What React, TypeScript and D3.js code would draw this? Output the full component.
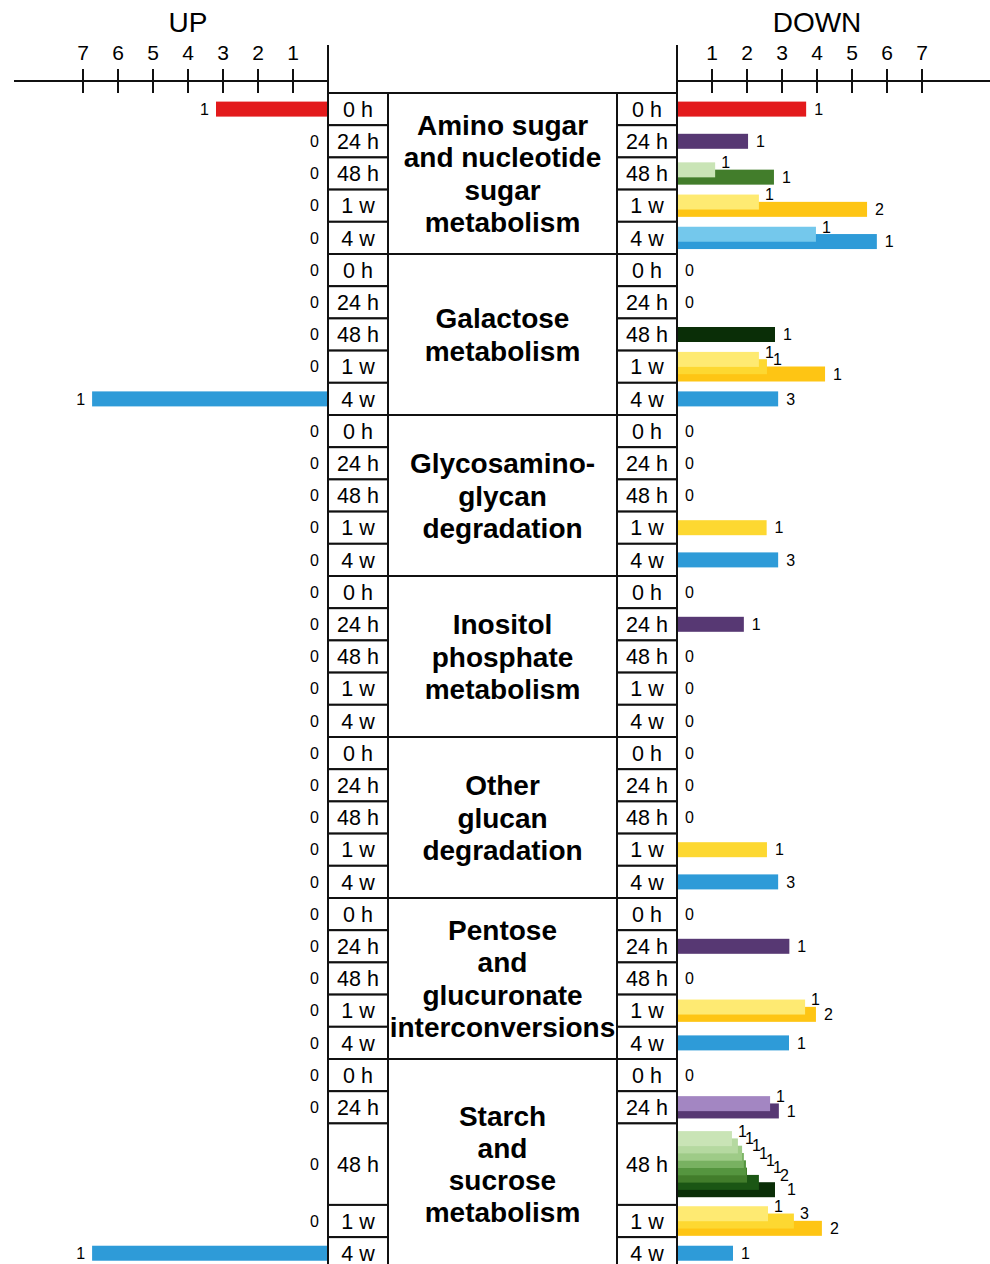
import React from 'react';
import * as d3 from 'd3';

// time points shown in both table columns
const timepoints = ['0 h', '24 h', '48 h', '1 w', '4 w'];

const pathwayLabels = [
  ['Amino sugar', 'and nucleotide', 'sugar', 'metabolism'],
  ['Galactose', 'metabolism'],
  ['Glycosamino-', 'glycan', 'degradation'],
  ['Inositol', 'phosphate', 'metabolism'],
  ['Other', 'glucan', 'degradation'],
  ['Pentose', 'and', 'glucuronate', 'interconversions'],
  ['Starch', 'and', 'sucrose', 'metabolism'],
];

// UP: bar length per pathway x timepoint, and gene counts
const upLength = [
  [3.2, 0, 0, 0, 0],
  [0, 0, 0, 0, 6.74],
  [0, 0, 0, 0, 0],
  [0, 0, 0, 0, 0],
  [0, 0, 0, 0, 0],
  [0, 0, 0, 0, 0],
  [0, 0, 0, 0, 6.74],
];
const upCount = [
  [1, 0, 0, 0, 0],
  [0, 0, 0, 0, 1],
  [0, 0, 0, 0, 0],
  [0, 0, 0, 0, 0],
  [0, 0, 0, 0, 0],
  [0, 0, 0, 0, 0],
  [0, 0, 0, 0, 1],
];
const upShade = ['red', 'purple', 'green8', 'yellow3', 'blue2'];

// DOWN: each cell holds [length, count, shade] bars
type Bar = [number, number, string];
const downAminoSugar: Bar[][] = [
  [[3.69, 1, 'red']],
  [[2.03, 1, 'purple']],
  [[1.09, 1, 'green1'], [2.77, 1, 'green6']],
  [[2.34, 1, 'yellow1'], [5.43, 2, 'yellow3']],
  [[3.97, 1, 'blue1'], [5.71, 1, 'blue2']],
];
const downGalactose: Bar[][] = [
  [],
  [],
  [[2.8, 1, 'green8']],
  [[2.34, 1, 'yellow1'], [2.57, 1, 'yellow2'], [4.23, 1, 'yellow3']],
  [[2.89, 3, 'blue2']],
];
const downGlycosaminoglycan: Bar[][] = [[], [], [], [[2.56, 1, 'yellow2']], [[2.89, 3, 'blue2']]];
const downInositol: Bar[][] = [[], [[1.91, 1, 'purple']], [], [], []];
const downOtherGlucan: Bar[][] = [[], [], [], [[2.57, 1, 'yellow2']], [[2.89, 3, 'blue2']]];
const downPentose: Bar[][] = [
  [],
  [[3.21, 1, 'purple']],
  [],
  [[3.66, 1, 'yellow1'], [3.97, 2, 'yellow3']],
  [[3.2, 1, 'blue2']],
];
const downStarch: Bar[][] = [
  [],
  [[2.66, 1, 'lilac'], [2.91, 1, 'purple']],
  [
    [1.57, 1, 'green1'], [1.74, 1, 'green2'], [1.86, 1, 'green3'], [1.91, 1, 'green4'],
    [1.97, 1, 'green5'], [2.0, 1, 'green6'], [2.34, 2, 'green7'], [2.8, 1, 'green8'],
  ],
  [[2.6, 1, 'yellow1'], [3.34, 3, 'yellow2'], [4.14, 2, 'yellow3']],
  [[1.6, 1, 'blue2']],
];
const downBars = [downAminoSugar, downGalactose, downGlycosaminoglycan, downInositol,
  downOtherGlucan, downPentose, downStarch];

const axisTicks = [1, 2, 3, 4, 5, 6, 7];

const colors: Record<string, string> = {
  red: '#e31a1c',
  purple: '#573873',
  lilac: '#a386c2',
  green1: '#c9e4b6', green2: '#b5d9a0', green3: '#9ecb87', green4: '#78b161',
  green5: '#55953f', green6: '#427d2b', green7: '#1b5614', green8: '#0a2e07',
  yellow1: '#feea72', yellow2: '#fdd831', yellow3: '#fec514',
  blue1: '#74c8ec', blue2: '#2e9bd8',
};

const FONT = '"Liberation Sans", Arial, Helvetica, sans-serif';
const W = 990, H = 1264;
const ROW = 32.2;
const TOP = 93;
const BAR_H = 15, STEP = 7.3;
const xL = 328, xC1 = 388, xC2 = 617, xR = 677;

export default function App() {
  const up = d3.scaleLinear().domain([0, 7]).range([xL, xL - 245]);
  const down = d3.scaleLinear().domain([0, 7]).range([xR, xR + 245]);

  // rows with many bars get more room
  const units = downBars.map(g => g.map(c => (c.length > 4 ? 1 + (c.length - 4) * 0.383 : 1)));
  const starts: number[][] = [];
  let acc = 0;
  units.forEach(g => {
    starts.push(g.map(u => { const s = acc; acc += u; return s; }));
  });
  const y = d3.scaleLinear().domain([0, acc]).range([TOP, TOP + acc * ROW]);

  const stroke = '#111';

  return (
    <svg width={W} height={H} style={{ position: 'absolute', left: 0, top: 0, background: '#fff' }}
      fontFamily={FONT}>
      <rect width={W} height={H} fill="#fff" />
      {/* titles */}
      <text x={up(4)} y={32} fontSize={28} textAnchor="middle">UP</text>
      <text x={down(4)} y={32} fontSize={28} textAnchor="middle">DOWN</text>
      {/* axes */}
      <line x1={14} x2={xL} y1={81} y2={81} stroke={stroke} strokeWidth={2} />
      <line x1={xR} x2={W} y1={81} y2={81} stroke={stroke} strokeWidth={2} />
      {axisTicks.map(t => (
        <g key={t}>
          <line x1={up(t)} x2={up(t)} y1={69} y2={93} stroke={stroke} strokeWidth={2} />
          <text x={up(t)} y={60} fontSize={21} textAnchor="middle">{t}</text>
          <line x1={down(t)} x2={down(t)} y1={69} y2={93} stroke={stroke} strokeWidth={2} />
          <text x={down(t)} y={60} fontSize={21} textAnchor="middle">{t}</text>
        </g>
      ))}

      {/* bars and labels */}
      {downBars.map((g, gi) => g.map((cell, ti) => {
        const y0 = y(starts[gi][ti]);
        const y1 = y(starts[gi][ti] + units[gi][ti]);
        const cy = (y0 + y1) / 2;
        const n = cell.length;
        const span = BAR_H + (n - 1) * STEP;
        const top0 = cy - span / 2;
        const ul = upLength[gi][ti];
        // labels step down to the right so they never collide
        let prevX = -Infinity;
        const labelX = cell.map(([len], i) => {
          const last = i === n - 1;
          const lx = Math.max(down(len) + (last ? 8 : 6), prevX + 7);
          prevX = lx;
          return lx;
        });
        return (
          <g key={`${gi}-${ti}`}>
            {ul > 0 ? (
              <g>
                <rect x={up(ul)} y={cy - BAR_H / 2} width={up(0) - up(ul)} height={BAR_H}
                  fill={colors[upShade[ti]]} />
                <text x={up(ul) - 7} y={cy} dy="0.36em" fontSize={16} textAnchor="end">
                  {upCount[gi][ti]}
                </text>
              </g>
            ) : (
              <text x={xL - 9} y={cy} dy="0.36em" fontSize={16} textAnchor="end">0</text>
            )}
            {n === 0 && (
              <text x={xR + 8} y={cy} dy="0.36em" fontSize={16}>0</text>
            )}
            {cell.map((b, i) => i).reverse().map(i => {
              const [len, , shade] = cell[i];
              return (
                <rect key={i} x={down(0)} y={top0 + i * STEP} width={down(len) - down(0)}
                  height={BAR_H} fill={colors[shade]} />
              );
            })}
            {cell.map(([, cnt], i) => {
              const last = i === n - 1;
              const ly = last ? top0 + i * STEP + BAR_H / 2 : top0 + i * STEP;
              return (
                <text key={'l' + i} x={labelX[i]} y={ly} dy="0.36em" fontSize={16}>
                  {cnt}
                </text>
              );
            })}
          </g>
        );
      }))}

      {/* table */}
      {downBars.map((g, gi) => {
        const gy0 = y(starts[gi][0]);
        const gy1 = y(starts[gi][g.length - 1] + units[gi][g.length - 1]);
        const gc = (gy0 + gy1) / 2;
        const lines = pathwayLabels[gi];
        return (
          <g key={'t' + gi}>
            <rect x={xC1} y={gy0} width={xC2 - xC1} height={gy1 - gy0} fill="#fff"
              stroke={stroke} strokeWidth={2} />
            {lines.map((l, li) => (
              <text key={li} x={(xC1 + xC2) / 2} y={gc + (li - (lines.length - 1) / 2) * ROW + 10}
                fontSize={28} fontWeight="bold" textAnchor="middle">{l}</text>
            ))}
            {timepoints.map((tp, ti) => {
              const r0 = y(starts[gi][ti]);
              const r1 = y(starts[gi][ti] + units[gi][ti]);
              const rc = (r0 + r1) / 2;
              return (
                <g key={tp}>
                  <rect x={xL} y={r0} width={xC1 - xL} height={r1 - r0} fill="#fff"
                    stroke={stroke} strokeWidth={2} />
                  <rect x={xC2} y={r0} width={xR - xC2} height={r1 - r0} fill="#fff"
                    stroke={stroke} strokeWidth={2} />
                  <text x={(xL + xC1) / 2} y={rc + 7.7} fontSize={21.5} textAnchor="middle">{tp}</text>
                  <text x={(xC2 + xR) / 2} y={rc + 7.7} fontSize={21.5} textAnchor="middle">{tp}</text>
                </g>
              );
            })}
          </g>
        );
      })}
      <line x1={xL} x2={xL} y1={45} y2={H} stroke={stroke} strokeWidth={2} />
      <line x1={xR} x2={xR} y1={45} y2={H} stroke={stroke} strokeWidth={2} />
    </svg>
  );
}
